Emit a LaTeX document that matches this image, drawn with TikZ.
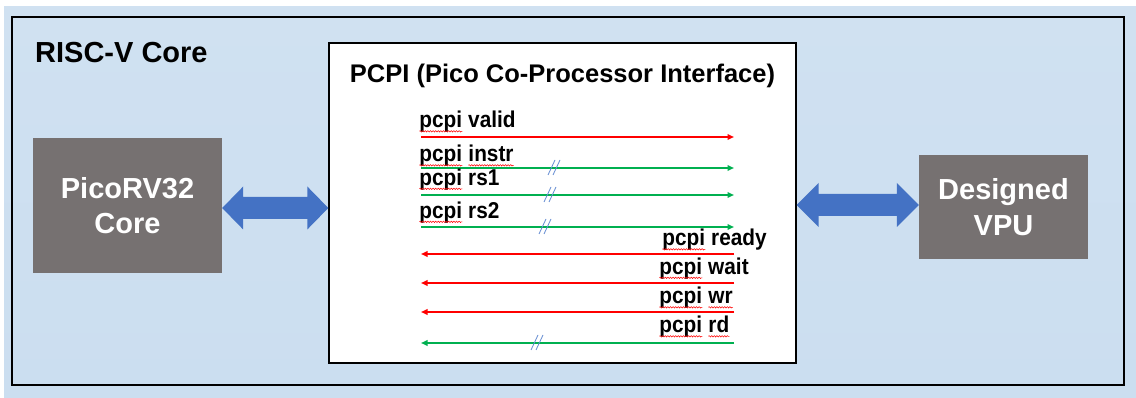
\documentclass[tikz,border=0pt]{standalone}
\usepackage{fontspec}
\setmainfont{Liberation Sans}
\usetikzlibrary{arrows.meta,calc,decorations.pathmorphing}

\definecolor{bgtop}{RGB}{208,225,241}
\definecolor{bgmid}{RGB}{186,212,236}
\definecolor{bgbot}{RGB}{203,222,240}
\definecolor{coregray}{RGB}{118,113,113}
\definecolor{linkblue}{RGB}{68,114,196}
\definecolor{sigred}{RGB}{255,0,0}
\definecolor{siggreen}{RGB}{0,176,80}
\definecolor{buscolor}{RGB}{100,140,210}

% word with a red wavy underline
\newcommand\squig[1]{\tikz[baseline=(w.base)]{\node[inner sep=0pt,outer sep=0pt](w){#1};
  \draw[sigred,line width=0.5pt,line cap=round,line join=round,decorate,
        decoration={zigzag,amplitude=0.7pt,segment length=2.6pt}]
    ([yshift=-3pt]w.base west)--([yshift=-3pt]w.base east);}}
% signal names are set slightly taller than wide
\newcommand\lbl[1]{\scalebox{1}[1.1]{#1}}

% wide double-headed block arrow between two named points
\newcommand\linkarrow[5]{%
  \fill[linkblue] (#1) -- ++(#3,-#4) -- ++(0,#4-#5) -- ($(#2)+(-#3,-#5)$) -- ++(0,#5-#4)
    -- (#2) -- ++(-#3,#4) -- ++(0,#5-#4) -- ($(#1)+(#3,#5)$) -- ++(0,#4-#5) -- cycle;}

\tikzset{
  corebox/.style={fill=coregray, text=white, align=center, inner sep=0pt,
    font=\bfseries\fontsize{29}{35.5}\selectfont},
  siglabel/.style={anchor=base west, inner sep=0pt, font=\bfseries\fontsize{20.8}{24}\selectfont},
  sigline/.style={line width=1.6pt, -{Triangle[length=6.5pt,width=5.5pt]}},
  sigR/.style={sigline, sigred},
  sigG/.style={sigline, siggreen},
  busline/.style={buscolor, line width=0.8pt},
  busmark/.pic={\draw[busline] (-6,7) -- (1,-8); \draw[busline] (-1,7) -- (6,-8);}
}

\begin{document}
\begin{tikzpicture}[x=1pt,y=-1pt]
  % page background
  \fill[white] (0,0) rectangle (1136,398);
  \shade[top color=bgtop, middle color=bgmid, bottom color=bgbot] (4,7) rectangle (1136,398);
  \useasboundingbox (0,0) rectangle (1136,398);

  % RISC-V core frame
  \node[draw=black, line width=1.8pt, minimum width=1112pt, minimum height=368pt, inner sep=0pt]
    (risc) at (568,201) {};
  \node[anchor=base west, inner sep=0pt, font=\bfseries\fontsize{29}{34}\selectfont]
    (risctitle) at (35,63) {RISC-V Core};

  % PCPI interface box
  \node[draw=black, fill=white, line width=1.4pt, minimum width=467pt, minimum height=320pt, inner sep=0pt]
    (pcpi) at (562.5,203) {};
  \node[anchor=base, inner sep=0pt, font=\bfseries\fontsize{25.5}{30}\selectfont]
    (pcpititle) at (562.5,83) {PCPI (Pico Co-Processor Interface)};

  % cores
  \node[corebox, minimum width=189pt, minimum height=135pt] (pico) at (127.5,205.5) {PicoRV32\\Core};
  \node[corebox, minimum width=169pt, minimum height=104pt] (vpu) at (1003.5,207) {Designed\\VPU};

  % block arrows
  \coordinate (la) at (pico.east |- 0,208);
  \coordinate (lb) at (pcpi.west |- 0,208);
  \coordinate (ra) at (pcpi.east |- 0,205);
  \coordinate (rb) at (vpu.west |- 0,205);
  \linkarrow{la}{lb}{21}{21.5}{11}
  \linkarrow{ra}{rb}{22}{22}{11}

  % request signals (core -> coprocessor)
  \coordinate (vs) at (421,137); \coordinate (ve) at (734,137);
  \coordinate (is) at (421,168); \coordinate (ie) at (734,168);
  \coordinate (as) at (421,195); \coordinate (ae) at (734,195);
  \coordinate (bs) at (421,227); \coordinate (be) at (734,227);
  \draw[sigR] (vs) -- (ve);
  \draw[sigG] (is) -- (ie);
  \draw[sigG] (as) -- (ae);
  \draw[sigG] (bs) -- (be);
  \node[siglabel] (lvalid) at (419,128) {\lbl{\squig{pcpi} valid}};
  \node[siglabel] (linstr) at (419,162) {\lbl{\squig{pcpi} \squig{instr}}};
  \node[siglabel] (lrs1) at (419,185.5) {\lbl{\squig{pcpi} rs1}};
  \node[siglabel] (lrs2) at (419,218.5) {\lbl{\squig{pcpi} rs2}};

  % response signals (coprocessor -> core)
  \coordinate (ys) at (734,254); \coordinate (ye) at (421,254);
  \coordinate (ws) at (734,283); \coordinate (we) at (421,283);
  \coordinate (rs) at (734,312); \coordinate (re) at (421,312);
  \coordinate (ds) at (734,343); \coordinate (de) at (421,343);
  \draw[sigR] (ys) -- (ye);
  \draw[sigR] (ws) -- (we);
  \draw[sigR] (rs) -- (re);
  \draw[sigG] (ds) -- (de);
  \node[siglabel] (lready) at (662,246) {\lbl{\squig{pcpi} ready}};
  \node[siglabel] (lwait) at (659,274.5) {\lbl{\squig{pcpi} wait}};
  \node[siglabel] (lwr) at (659,304) {\lbl{\squig{pcpi} \squig{wr}}};
  \node[siglabel] (lrd) at (659,333) {\lbl{\squig{pcpi} \squig{rd}}};

  % bus-width marks on the multi-bit signals
  \pic at (554,168) {busmark};
  \pic at (550,195) {busmark};
  \pic at (545,227) {busmark};
  \pic at (537,343) {busmark};
\end{tikzpicture}
\end{document}
